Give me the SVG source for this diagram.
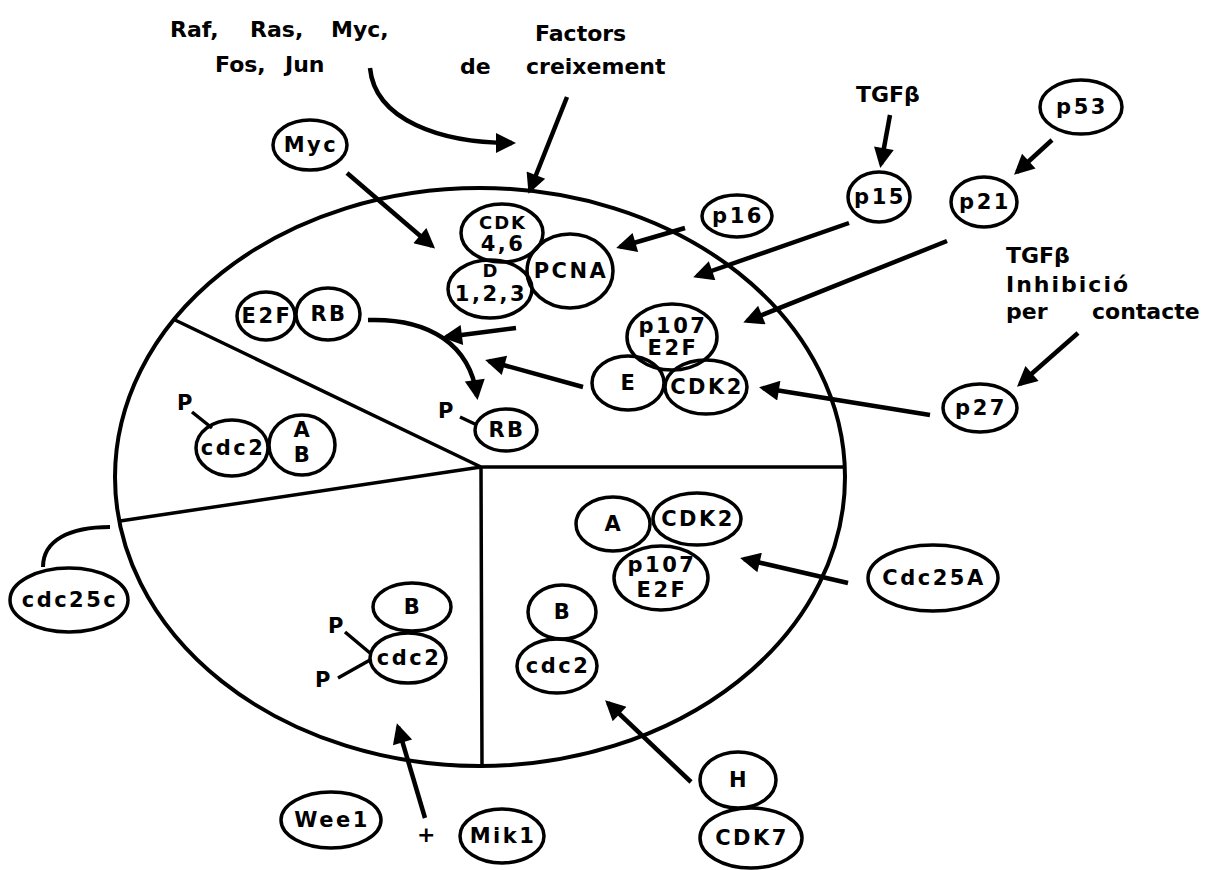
<svg xmlns="http://www.w3.org/2000/svg" width="1219" height="870" viewBox="0 0 1219 870">
<defs>
<marker id="ah" viewBox="0 0 10 10" refX="8" refY="5" markerWidth="26" markerHeight="20" markerUnits="userSpaceOnUse" orient="auto">
<path d="M0,0 L10,5 L0,10 z" fill="#000"/>
</marker>
<style>
.o{fill:none;stroke:#000;stroke-width:3.5}
.t{font-family:"DejaVu Sans",sans-serif;font-weight:bold;font-size:21px;letter-spacing:2.5px;fill:#000;text-anchor:middle}
.s{font-size:18px;letter-spacing:2px}
.h{font-family:"DejaVu Sans",sans-serif;font-weight:bold;font-size:22px;fill:#000}
.c{fill:none;stroke:#000;stroke-width:4}
.a{fill:none;stroke:#000;stroke-width:4.5;marker-end:url(#ah)}
.l{fill:none;stroke:#000;stroke-width:3.5}
</style>
</defs>
<rect width="1219" height="870" fill="#fff"/>

<g id="cycle">
<ellipse cx="480" cy="477" rx="365" ry="289" fill="none" stroke="#000" stroke-width="4"/>
<path class="l" d="M481,467 L175,320 M481,467 L843,467 M481,467 L482,766 M481,467 L120,521" stroke-width="4"/>
</g>

<g id="labels">
<text class="h" x="170" y="37">Raf,</text>
<text class="h" x="250" y="37">Ras,</text>
<text class="h" x="331" y="37">Myc,</text>
<text class="h" x="215" y="72">Fos,</text>
<text class="h" x="285" y="72">Jun</text>
<text class="h" x="535" y="41">Factors</text>
<text class="h" x="460" y="74">de</text>
<text class="h" x="526" y="74">creixement</text>
<text class="h" x="856" y="102">TGFβ</text>
<text class="h" x="1006" y="263">TGFβ</text>
<text class="h" x="1006" y="292" letter-spacing="2">Inhibició</text>
<text class="h" x="1006" y="319">per</text>
<text class="h" x="1092" y="319">contacte</text>
<text class="h" x="417" y="842">+</text>
</g>

<g id="connectors">
<path class="a" d="M370,68 C375,120 440,143 512,143"/>
<path class="a" d="M567,97 L530,190"/>
<path class="a" d="M347,173 L432,246"/>
<path class="a" d="M685,228 L620,247"/>
<path class="a" d="M890,115 L881,164"/>
<path class="a" d="M849,223 L697,276"/>
<path class="a" d="M1052,140 L1017,172"/>
<path class="a" d="M947,241 L747,321"/>
<path class="a" d="M1078,333 L1020,384"/>
<path class="a" d="M930,415 L763,388"/>
<path class="a" d="M516,328 L446,337"/>
<path class="a" d="M583,387 L489,361"/>
<path class="a" d="M368,320 C430,318 470,345 477,396"/>
<path class="a" d="M848,583 L744,559"/>
<path class="a" d="M691,782 L608,703"/>
<path class="a" d="M425,818 L398,727"/>
<path class="c" d="M43,567 C43,540 70,527 110,527" stroke-width="3.5"/>
<path class="l" d="M460,417 L477,425 M192,412 L212,428 M345,632 L370,653 M338,678 L370,660"/>
</g>

<g id="myc"><ellipse class="o" cx="310" cy="145" rx="37" ry="25"/><text class="t" x="311" y="152">Myc</text></g>
<g id="cdk46"><ellipse class="o" cx="502" cy="233" rx="41" ry="29"/><text class="t s" x="503" y="229">CDK</text><text class="t" x="503" y="251">4,6</text></g>
<g id="d123"><ellipse class="o" cx="490" cy="289" rx="42" ry="29"/><text class="t s" x="491" y="277">D</text><text class="t" x="491" y="301">1,2,3</text></g>
<g id="pcna"><ellipse class="o" cx="570" cy="271" rx="43" ry="37"/><text class="t" x="571" y="278">PCNA</text></g>
<g id="p16"><ellipse class="o" cx="737" cy="216" rx="35" ry="21"/><text class="t" x="738" y="223">p16</text></g>
<g id="p15"><ellipse class="o" cx="879" cy="197" rx="31" ry="25"/><text class="t" x="880" y="204">p15</text></g>
<g id="p21"><ellipse class="o" cx="984" cy="202" rx="33" ry="25"/><text class="t" x="985" y="209">p21</text></g>
<g id="p53"><ellipse class="o" cx="1081" cy="107" rx="41" ry="27"/><text class="t" x="1082" y="114">p53</text></g>
<g id="p27"><ellipse class="o" cx="980" cy="408" rx="37" ry="24"/><text class="t" x="981" y="415">p27</text></g>
<g id="e2f"><ellipse class="o" cx="266" cy="316" rx="29" ry="24"/><text class="t" x="267" y="323">E2F</text></g>
<g id="rb"><ellipse class="o" cx="328" cy="314" rx="32" ry="26"/><text class="t" x="329" y="321">RB</text></g>
<g id="p107a"><ellipse class="o" cx="672" cy="337" rx="45" ry="33"/><text class="t" x="673" y="333">p107</text><text class="t" x="673" y="355">E2F</text></g>
<g id="e"><ellipse class="o" cx="628" cy="383" rx="36" ry="27"/><text class="t" x="629" y="390">E</text></g>
<g id="cdk2a"><ellipse class="o" cx="706" cy="387" rx="41" ry="27"/><text class="t" x="707" y="394">CDK2</text></g>
<g id="prb"><text class="t" x="447" y="418">P</text><ellipse class="o" cx="506" cy="430" rx="31" ry="21"/><text class="t" x="507" y="437">RB</text></g>
<g id="cdc2ab"><text class="t" x="186" y="410">P</text><ellipse class="o" cx="232" cy="448" rx="36" ry="28"/><text class="t" x="233" y="455">cdc2</text><ellipse class="o" cx="302" cy="445" rx="33" ry="30"/><text class="t" x="303" y="437">A</text><text class="t" x="303" y="462">B</text></g>
<g id="cdc25c"><ellipse class="o" cx="69" cy="600" rx="59" ry="32"/><text class="t" x="70" y="607">cdc25c</text></g>
<g id="bcdc2m"><ellipse class="o" cx="412" cy="607" rx="39" ry="24"/><text class="t" x="413" y="614">B</text><ellipse class="o" cx="408" cy="658" rx="38" ry="25"/><text class="t" x="409" y="665">cdc2</text><text class="t" x="337" y="633">P</text><text class="t" x="324" y="687">P</text></g>
<g id="wee1"><ellipse class="o" cx="331" cy="820" rx="50" ry="28"/><text class="t" x="332" y="827">Wee1</text></g>
<g id="mik1"><ellipse class="o" cx="502" cy="836" rx="42" ry="27"/><text class="t" x="503" y="843">Mik1</text></g>
<g id="a"><ellipse class="o" cx="613" cy="524" rx="37" ry="27"/><text class="t" x="614" y="531">A</text></g>
<g id="cdk2b"><ellipse class="o" cx="697" cy="519" rx="44" ry="26"/><text class="t" x="698" y="526">CDK2</text></g>
<g id="p107b"><ellipse class="o" cx="661" cy="578" rx="47" ry="32"/><text class="t" x="662" y="572">p107</text><text class="t" x="662" y="597">E2F</text></g>
<g id="cdc25a"><ellipse class="o" cx="933" cy="578" rx="65" ry="33"/><text class="t" x="934" y="585">Cdc25A</text></g>
<g id="bcdc2g"><ellipse class="o" cx="562" cy="612" rx="34" ry="27"/><text class="t" x="563" y="619">B</text><ellipse class="o" cx="557" cy="666" rx="40" ry="27"/><text class="t" x="558" y="673">cdc2</text></g>
<g id="h"><ellipse class="o" cx="738" cy="780" rx="38" ry="28"/><text class="t" x="739" y="787">H</text></g>
<g id="cdk7"><ellipse class="o" cx="751" cy="838" rx="51" ry="30"/><text class="t" x="752" y="845">CDK7</text></g>
</svg>
